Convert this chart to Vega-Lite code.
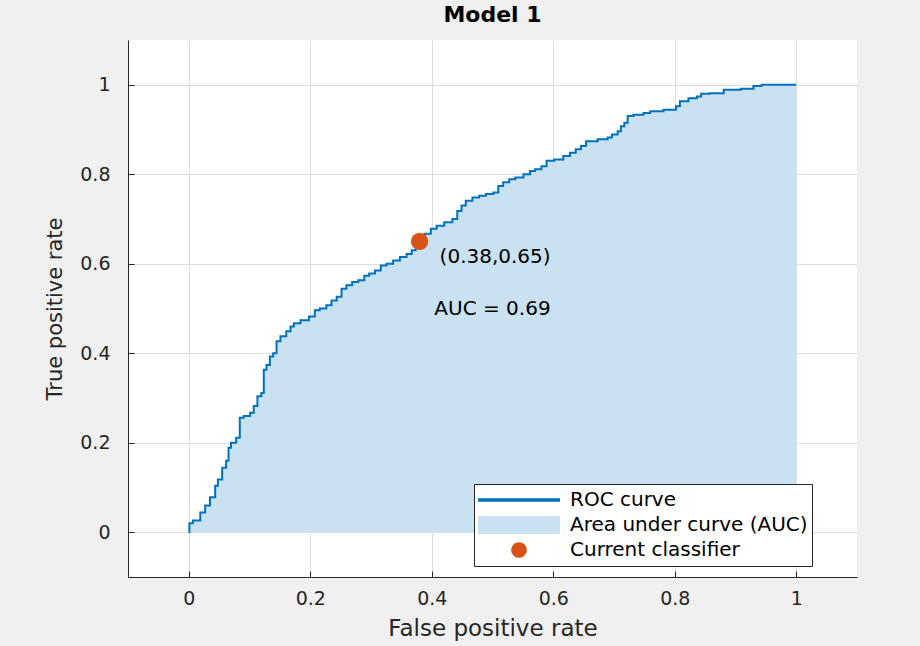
{
  "$schema": "https://vega.github.io/schema/vega-lite/v6.json",
  "autosize": {"type": "none"},
  "width": 729,
  "height": 537,
  "padding": {"left": 128, "top": 40, "right": 63, "bottom": 69},
  "background": "#f0f0f0",
  "title": {"text": "Model 1", "font": "DejaVu Sans", "fontSize": 22, "fontWeight": "bold", "color": "black", "anchor": "middle", "offset": 13},
  "config": {
    "view": {"fill": "white", "stroke": null},
    "axis": {
      "domainColor": "#262626", "domainWidth": 1,
      "tickColor": "#262626", "tickSize": -6, "tickWidth": 1,
      "gridColor": "#dedede", "gridWidth": 1,
      "labelFont": "DejaVu Sans", "labelFontSize": 19, "labelColor": "#262626",
      "titleFont": "DejaVu Sans", "titleFontWeight": "normal", "titleColor": "#262626"
    }
  },
  "datasets": {
    "roc": [
      {"fpr": 0, "tpr": 0}, {"fpr": 0.002, "tpr": 0.02}, {"fpr": 0.012, "tpr": 0.026}, {"fpr": 0.026, "tpr": 0.044},
      {"fpr": 0.028, "tpr": 0.06}, {"fpr": 0.042, "tpr": 0.078}, {"fpr": 0.045, "tpr": 0.104}, {"fpr": 0.051, "tpr": 0.118},
      {"fpr": 0.059, "tpr": 0.144}, {"fpr": 0.064, "tpr": 0.16}, {"fpr": 0.067, "tpr": 0.189}, {"fpr": 0.072, "tpr": 0.2},
      {"fpr": 0.084, "tpr": 0.211}, {"fpr": 0.084, "tpr": 0.256}, {"fpr": 0.097, "tpr": 0.26}, {"fpr": 0.105, "tpr": 0.267},
      {"fpr": 0.109, "tpr": 0.282}, {"fpr": 0.117, "tpr": 0.304}, {"fpr": 0.122, "tpr": 0.311}, {"fpr": 0.125, "tpr": 0.363},
      {"fpr": 0.131, "tpr": 0.374}, {"fpr": 0.136, "tpr": 0.393}, {"fpr": 0.142, "tpr": 0.4}, {"fpr": 0.147, "tpr": 0.427},
      {"fpr": 0.155, "tpr": 0.438}, {"fpr": 0.166, "tpr": 0.449}, {"fpr": 0.169, "tpr": 0.46}, {"fpr": 0.177, "tpr": 0.467},
      {"fpr": 0.191, "tpr": 0.474}, {"fpr": 0.205, "tpr": 0.482}, {"fpr": 0.21, "tpr": 0.496}, {"fpr": 0.221, "tpr": 0.5},
      {"fpr": 0.232, "tpr": 0.507}, {"fpr": 0.238, "tpr": 0.518}, {"fpr": 0.249, "tpr": 0.526}, {"fpr": 0.254, "tpr": 0.544},
      {"fpr": 0.265, "tpr": 0.552}, {"fpr": 0.273, "tpr": 0.559}, {"fpr": 0.285, "tpr": 0.563}, {"fpr": 0.293, "tpr": 0.573},
      {"fpr": 0.301, "tpr": 0.578}, {"fpr": 0.312, "tpr": 0.585}, {"fpr": 0.32, "tpr": 0.596}, {"fpr": 0.331, "tpr": 0.6},
      {"fpr": 0.342, "tpr": 0.607}, {"fpr": 0.353, "tpr": 0.615}, {"fpr": 0.364, "tpr": 0.622}, {"fpr": 0.37, "tpr": 0.63},
      {"fpr": 0.377, "tpr": 0.644}, {"fpr": 0.384, "tpr": 0.658}, {"fpr": 0.392, "tpr": 0.667}, {"fpr": 0.405, "tpr": 0.678},
      {"fpr": 0.411, "tpr": 0.685}, {"fpr": 0.43, "tpr": 0.693}, {"fpr": 0.438, "tpr": 0.7}, {"fpr": 0.446, "tpr": 0.718},
      {"fpr": 0.452, "tpr": 0.73}, {"fpr": 0.46, "tpr": 0.741}, {"fpr": 0.474, "tpr": 0.748}, {"fpr": 0.482, "tpr": 0.752},
      {"fpr": 0.496, "tpr": 0.756}, {"fpr": 0.507, "tpr": 0.759}, {"fpr": 0.512, "tpr": 0.774}, {"fpr": 0.523, "tpr": 0.782},
      {"fpr": 0.532, "tpr": 0.789}, {"fpr": 0.543, "tpr": 0.793}, {"fpr": 0.559, "tpr": 0.8}, {"fpr": 0.565, "tpr": 0.807},
      {"fpr": 0.575, "tpr": 0.811}, {"fpr": 0.586, "tpr": 0.818}, {"fpr": 0.592, "tpr": 0.83}, {"fpr": 0.611, "tpr": 0.833},
      {"fpr": 0.622, "tpr": 0.841}, {"fpr": 0.633, "tpr": 0.848}, {"fpr": 0.641, "tpr": 0.856}, {"fpr": 0.65, "tpr": 0.863},
      {"fpr": 0.658, "tpr": 0.874}, {"fpr": 0.688, "tpr": 0.878}, {"fpr": 0.691, "tpr": 0.882}, {"fpr": 0.702, "tpr": 0.889},
      {"fpr": 0.71, "tpr": 0.896}, {"fpr": 0.713, "tpr": 0.907}, {"fpr": 0.721, "tpr": 0.915}, {"fpr": 0.724, "tpr": 0.93},
      {"fpr": 0.74, "tpr": 0.933}, {"fpr": 0.757, "tpr": 0.937}, {"fpr": 0.762, "tpr": 0.941}, {"fpr": 0.801, "tpr": 0.944},
      {"fpr": 0.803, "tpr": 0.952}, {"fpr": 0.814, "tpr": 0.963}, {"fpr": 0.831, "tpr": 0.97}, {"fpr": 0.842, "tpr": 0.974},
      {"fpr": 0.845, "tpr": 0.98}, {"fpr": 0.87, "tpr": 0.981}, {"fpr": 0.891, "tpr": 0.989}, {"fpr": 0.927, "tpr": 0.991},
      {"fpr": 0.932, "tpr": 0.997}, {"fpr": 0.954, "tpr": 1.0}, {"fpr": 1.0, "tpr": 1.0}
    ],
    "classifier": [{"fpr": 0.38, "tpr": 0.65, "label": "(0.38,0.65)"}],
    "auc": [{"fpr": 0.5, "tpr": 0.5, "label": "AUC = 0.69"}],
    "legendItems": [
      {"series": "ROC curve"},
      {"series": "Area under curve (AUC)"},
      {"series": "Current classifier"}
    ]
  },
  "encoding": {
    "x": {
      "field": "fpr", "type": "quantitative",
      "scale": {"domain": [-0.1, 1.1], "nice": false, "zero": false},
      "axis": {"title": "False positive rate", "values": [0, 0.2, 0.4, 0.6, 0.8, 1], "format": "~g", "grid": true, "labelPadding": 18, "titleFontSize": 23, "titlePadding": 9}
    },
    "y": {
      "field": "tpr", "type": "quantitative",
      "scale": {"domain": [-0.1, 1.1], "nice": false, "zero": false},
      "axis": {"title": "True positive rate", "values": [0, 0.2, 0.4, 0.6, 0.8, 1], "format": "~g", "grid": true, "labelPadding": 24, "titleFontSize": 21, "titlePadding": 14}
    }
  },
  "layer": [
    {
      "data": {"name": "roc"},
      "mark": {"type": "area", "interpolate": "step", "color": "#c9e1f1", "opacity": 1},
      "encoding": {"y2": {"datum": 0}}
    },
    {
      "data": {"name": "roc"},
      "mark": {"type": "line", "interpolate": "step", "color": "#0072BD", "strokeWidth": 2},
      "encoding": {}
    },
    {
      "data": {"name": "classifier"},
      "mark": {"type": "point", "filled": true, "shape": "circle", "size": 300, "color": "#D95319", "opacity": 1}
    },
    {
      "data": {"name": "classifier"},
      "mark": {"type": "text", "align": "left", "baseline": "middle", "dx": 20, "dy": 16, "font": "DejaVu Sans", "fontSize": 20, "color": "black"},
      "encoding": {"text": {"field": "label"}}
    },
    {
      "data": {"name": "auc"},
      "mark": {"type": "text", "align": "center", "baseline": "middle", "font": "DejaVu Sans", "fontSize": 20, "color": "black"},
      "encoding": {"text": {"field": "label"}}
    },
    {
      "data": {"name": "legendItems"},
      "mark": {"type": "point", "filled": true, "opacity": 0},
      "encoding": {
        "x": {"datum": 0.5},
        "y": {"datum": 0.5},
        "color": {
          "field": "series", "type": "nominal",
          "scale": {"domain": ["ROC curve", "Area under curve (AUC)", "Current classifier"], "range": ["#0072BD", "#c9e1f1", "#D95319"]},
          "legend": {
            "title": null, "orient": "none", "legendX": 346, "legendY": 444,
            "strokeColor": "#262626", "fillColor": "white", "padding": 4, "cornerRadius": 0,
            "labelFont": "DejaVu Sans", "labelFontSize": 20, "labelColor": "black", "labelLimit": 400, "labelOffset": 10,
            "symbolSize": 6724, "symbolStrokeWidth": 0, "symbolOpacity": 1, "clipHeight": 24, "rowPadding": 1,
            "encode": {"symbols": {"update": {"opacity": {"value": 1}, "fillOpacity": {"value": 1}, "strokeOpacity": {"value": 0}}}}
          }
        },
        "shape": {
          "field": "series", "type": "nominal",
          "scale": {
            "domain": ["ROC curve", "Area under curve (AUC)", "Current classifier"],
            "range": [
              "M-1,-0.04H1V0.04H-1Z",
              "M-1,-0.22H1V0.22H-1Z",
              "M-0.19,0A0.19,0.19,0,1,0,0.19,0A0.19,0.19,0,1,0,-0.19,0Z"
            ]
          }
        }
      }
    }
  ]
}
